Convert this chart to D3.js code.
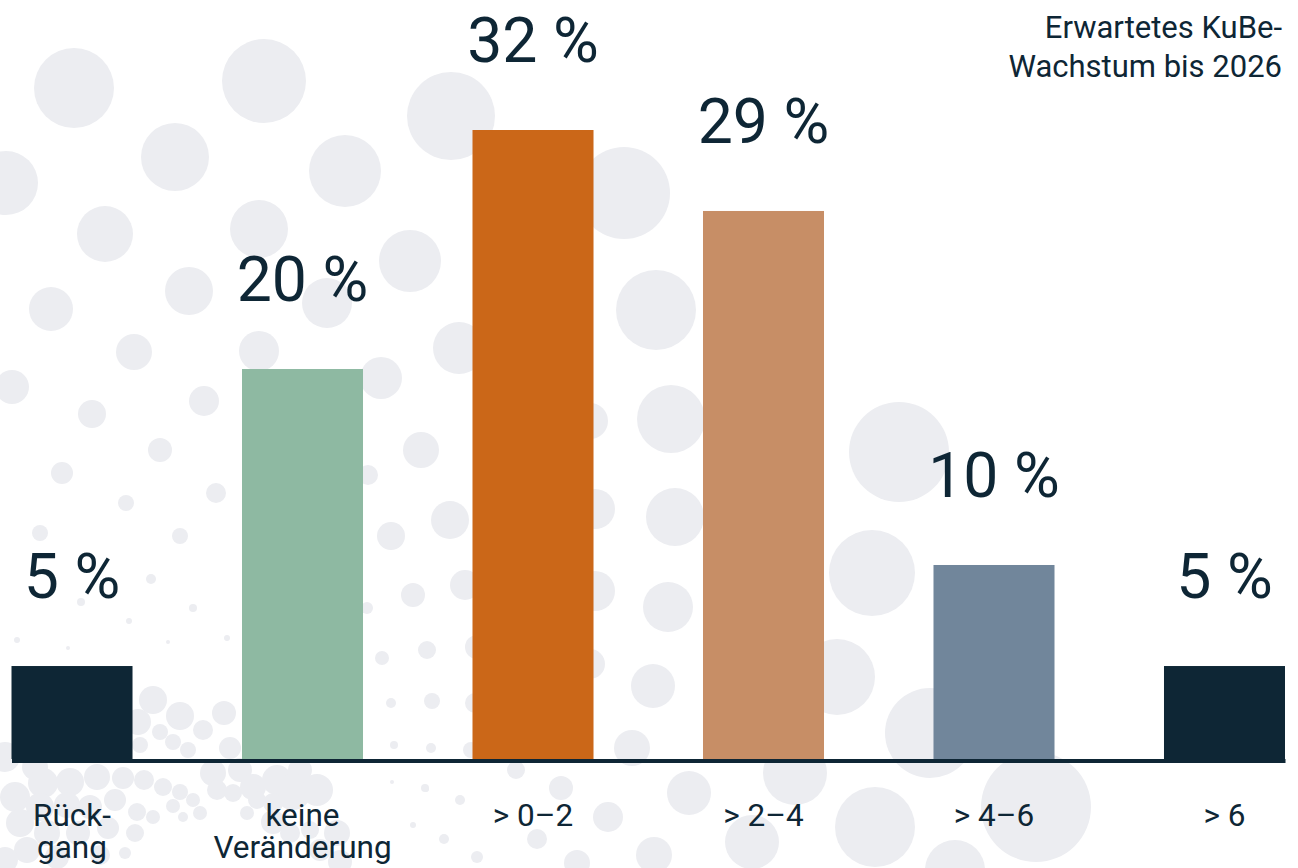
<!DOCTYPE html>
<html>
<head>
<meta charset="utf-8">
<script src="https://cdn.jsdelivr.net/npm/d3@7"></script>
<style>
  html, body { margin: 0; padding: 0; background: #fff; }
  svg { display: block; font-family: Roboto, "Noto Sans", sans-serif; }
</style>
</head>
<body>
<div id="chart"></div>
<script>
// chart data
var categories = ["Rück-\ngang", "keine\nVeränderung", "> 0–2", "> 2–4", "> 4–6", "> 6"];
var shares = [4.73, 19.84, 32, 27.88, 9.87, 4.73];
var shareLabels = ["5 %", "20 %", "32 %", "29 %", "10 %", "5 %"];
var barColors = ["#0e2635", "#8eb9a2", "#cb6718", "#c78e66", "#71869b", "#0e2635"];
var titleLines = ["Erwartetes KuBe-", "Wachstum bis 2026"];

// decorative background bubbles [x, y, r]
var bubbles = [
  [74,88,40],[264,81,42],[451,116,44],[175,157,34],[6,183,32],[345,171,36],[624,193,46],
  [105,234,28],[259,229,29],[410,261,31],[656,310,40],[51,309,22],[189,291,24],[327,303,25],
  [459,348,26],[134,352,18],[259,351,20],[381,378,21],[12,387,17],[92,414,14],[204,401,15],
  [671,419,34],[590,421,18],[160,450,12],[421,450,18],[62,473,11],[216,493,10],[450,520,19],
  [675,517,29],[595,509,20],[126,503,8],[40,533,8],[180,536,8],[391,536,14],[668,607,25],
  [595,591,20],[413,595,12],[427,650,9],[382,658,7],[653,686,22],[590,664,15],[432,701,8],
  [391,703,5],[153,700,14],[180,716,14],[224,713,12],[632,748,18],[368,475,10],[367,608,6],
  [465,585,15],[477,647,12],[475,703,10],[471,750,8],[431,748,5],[394,745,4],
  [151,579,5],[193,608,4],[227,638,3],[17,640,3],[129,621,3],[81,602,4],[68,648,2],[168,642,2],
  [899,452,50],[872,573,43],[837,677,38],[930,733,45],[795,773,32],[689,793,22],[1036,807,55],
  [875,827,40],[752,842,27],[654,855,18],[955,870,30],
  [516,770,9],[561,788,12],[608,817,15],[537,839,10],[577,863,13],[460,800,5],[444,839,5],
  [477,857,6],[431,748,4],[426,789,3],[392,782,2],[425,788,4],[413,825,3],
  [138,722,13],[160,732,8],[173,742,8],[188,750,8],[203,730,10],[230,748,11],[140,745,8],
  [5,757,15],[35,767,13],[15,797,15],[43,783,15],[70,782,14],[97,777,13],[123,778,11],
  [144,780,10],[163,787,9],[180,792,8],[193,800,7],[40,807,14],[67,805,13],[90,807,12],
  [115,800,11],[137,812,9],[153,817,7],[173,806,7],[20,823,14],[47,833,13],[78,833,12],
  [108,828,11],[135,833,9],[27,850,13],[57,857,12],[100,855,10],[125,853,6],[5,860,13],
  [213,773,13],[240,770,12],[217,790,10],[233,793,9],[253,787,13],[277,780,15],[300,770,12],
  [293,792,18],[317,790,16],[273,803,10],[257,800,9],[200,813,7],[183,817,5],[247,813,7],
  [273,822,12],[337,833,13],[290,833,10],[310,830,9],[320,850,11],[340,862,12]
];

var svgWidth = 1298;
var svgHeight = 868;

var svg = d3.select("#chart")
  .append("svg")
  .attr("width", svgWidth)
  .attr("height", svgHeight);

svg.append("rect")
  .attr("width", svgWidth)
  .attr("height", svgHeight)
  .attr("fill", "#ffffff");

// background bubbles
svg.append("g")
  .selectAll("circle")
  .data(bubbles)
  .enter()
  .append("circle")
  .attr("cx", d => d[0])
  .attr("cy", d => d[1])
  .attr("r", d => d[2])
  .attr("fill", "#ecedf1");

// scales
var xScale = d3.scaleBand()
  .domain(categories)
  .range([11.5, 1285])
  .paddingInner(0.475)
  .paddingOuter(0);

var yScale = d3.scaleLinear()
  .domain([0, 32])
  .range([759, 130]);

// bars
svg.append("g")
  .selectAll("rect")
  .data(shares)
  .enter()
  .append("rect")
  .attr("x", (d, i) => xScale(categories[i]))
  .attr("y", d => yScale(d))
  .attr("width", xScale.bandwidth())
  .attr("height", d => yScale(0) - yScale(d))
  .attr("fill", (d, i) => barColors[i]);

// value labels
svg.append("g")
  .selectAll("text")
  .data(shares)
  .enter()
  .append("text")
  .attr("x", (d, i) => xScale(categories[i]) + xScale.bandwidth() / 2)
  .attr("y", d => yScale(d) - 68)
  .attr("text-anchor", "middle")
  .attr("font-size", 62.5)
  .attr("fill", "#0e2635")
  .text((d, i) => shareLabels[i]);

// x axis: baseline + category labels
var xAxis = svg.append("g")
  .attr("transform", "translate(0, 760.5)")
  .call(d3.axisBottom(xScale).tickSize(0).tickSizeOuter(0));

xAxis.select(".domain")
  .attr("stroke", "#0e2635")
  .attr("stroke-width", 4);

xAxis.selectAll(".tick text").each(function(d) {
  var t = d3.select(this);
  t.text(null)
    .attr("y", 65.5)
    .attr("dy", 0)
    .attr("font-size", 31.5)
    .attr("font-family", "Roboto, sans-serif")
    .attr("fill", "#0e2635");
  d.split("\n").forEach(function(line, i) {
    t.append("tspan")
      .attr("x", 0)
      .attr("y", 65.5 + i * 32)
      .text(line);
  });
});

// title top right
svg.append("text")
  .attr("text-anchor", "end")
  .attr("font-size", 31)
  .attr("fill", "#0e2635")
  .selectAll("tspan")
  .data(titleLines)
  .enter()
  .append("tspan")
  .attr("x", 1282)
  .attr("y", (d, i) => 38 + i * 39)
  .text(d => d);
</script>
</body>
</html>
